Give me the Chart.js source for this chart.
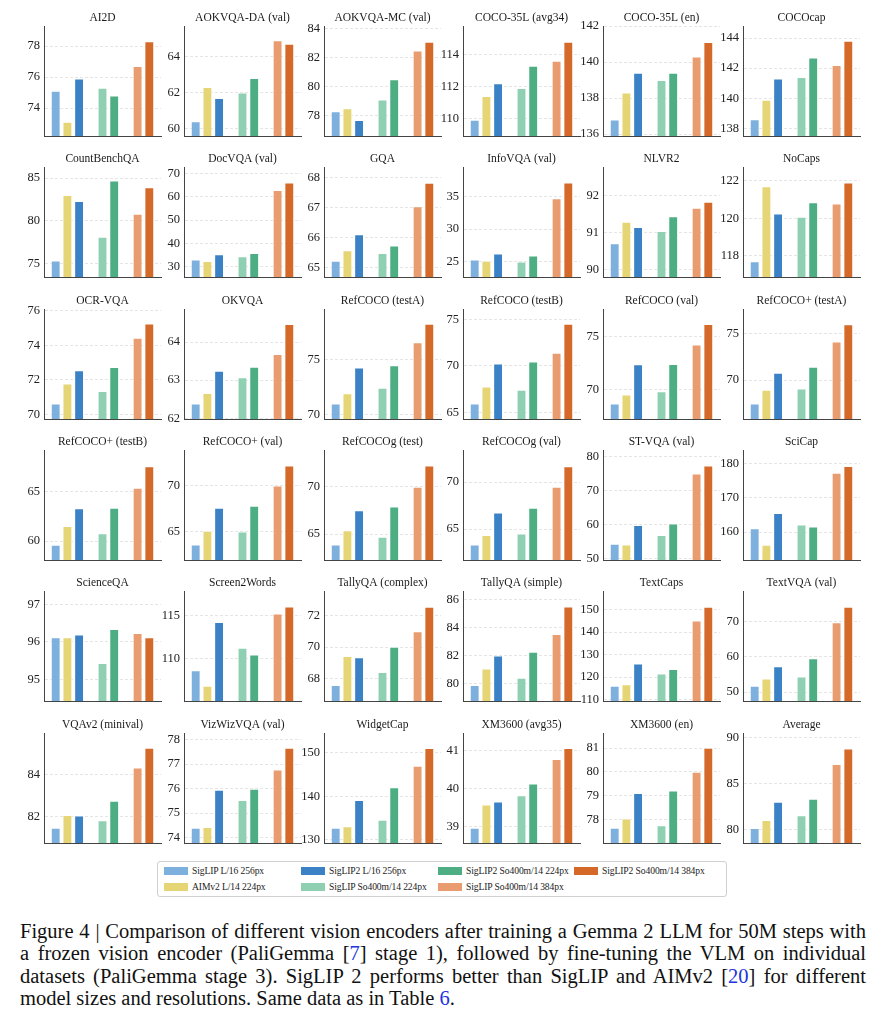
<!DOCTYPE html>
<html>
<head>
<meta charset="utf-8">
<script src="https://cdn.jsdelivr.net/npm/chart.js@4.4.1/dist/chart.umd.min.js"></script>
<style>
  body { margin: 0; background: #fff; width: 883px; height: 1024px; position: relative; overflow: hidden;
         font-family: 'Liberation Serif', 'Times New Roman', serif; }
  canvas.panel { position: absolute; }
  #legend { position: absolute; left: 157px; top: 861px; width: 570px; height: 36px;
            border: 1px solid #d0d0d0; border-radius: 3px; box-sizing: border-box; }
  .item { position: absolute; font-size: 9.6px; letter-spacing: -0.1px; color: #222; white-space: nowrap; line-height: 12px; }
  .sw { display: inline-block; width: 24px; height: 8px; margin-right: 4px; vertical-align: -1px; }
  #caption { position: absolute; left: 20px; top: 920px; width: 846px; font-size: 20.5px; line-height: 22.4px; color: #111; }
  #caption div { text-align: justify; text-align-last: justify; white-space: nowrap; }
  #caption div.last { text-align-last: left; }
  #caption span.ref { color: #2233dd; }
</style>
</head>
<body>
<div id="legend"></div>
<div id="caption">
  <div>Figure 4 | Comparison of different vision encoders after training a Gemma 2 LLM for 50M steps with</div>
  <div>a frozen vision encoder (PaliGemma [<span class="ref">7</span>] stage 1), followed by fine-tuning the VLM on individual</div>
  <div>datasets (PaliGemma stage 3). SigLIP 2 performs better than SigLIP and AIMv2 [<span class="ref">20</span>] for different</div>
  <div class="last">model sizes and resolutions. Same data as in Table <span class="ref">6</span>.</div>
</div>
<script>
// model order inside every panel
const models = ['SigLIP L/16 256px', 'AIMv2 L/14 224px', 'SigLIP2 L/16 256px',
  'SigLIP So400m/14 224px', 'SigLIP2 So400m/14 224px', 'SigLIP So400m/14 384px', 'SigLIP2 So400m/14 384px'];
const colors = ['#7eb0dd', '#e6d575', '#3a82c5', '#8fd0b3', '#4dae84', '#e99c70', '#d4692a'];

const tasks = [
  'AI2D', 'AOKVQA-DA (val)', 'AOKVQA-MC (val)', 'COCO-35L (avg34)', 'COCO-35L (en)', 'COCOcap',
  'CountBenchQA', 'DocVQA (val)', 'GQA', 'InfoVQA (val)', 'NLVR2', 'NoCaps',
  'OCR-VQA', 'OKVQA', 'RefCOCO (testA)', 'RefCOCO (testB)', 'RefCOCO (val)', 'RefCOCO+ (testA)',
  'RefCOCO+ (testB)', 'RefCOCO+ (val)', 'RefCOCOg (test)', 'RefCOCOg (val)', 'ST-VQA (val)', 'SciCap',
  'ScienceQA', 'Screen2Words', 'TallyQA (complex)', 'TallyQA (simple)', 'TextCaps', 'TextVQA (val)',
  'VQAv2 (minival)', 'VizWizVQA (val)', 'WidgetCap', 'XM3600 (avg35)', 'XM3600 (en)', 'Average'
];

const scores = [
  [75.1, 73.1, 75.9, 75.3, 74.8, 76.7, 78.3],
  [60.4, 62.3, 61.7, 62.0, 62.8, 64.9, 64.7],
  [78.3, 78.5, 77.7, 79.1, 80.5, 82.5, 83.1],
  [109.9, 111.4, 112.2, 111.9, 113.3, 113.6, 114.8],
  [136.8, 138.3, 139.4, 139.0, 139.4, 140.3, 141.1],
  [138.6, 139.9, 141.3, 141.4, 142.7, 142.2, 143.8],
  [75.3, 83.0, 82.3, 78.1, 84.7, 80.8, 83.9],
  [33.0, 32.4, 35.3, 34.4, 35.8, 62.8, 66.0],
  [65.23, 65.58, 66.11, 65.49, 65.74, 67.04, 67.82],
  [25.35, 25.15, 26.27, 25.05, 25.96, 34.7, 37.1],
  [90.7, 91.28, 91.14, 91.03, 91.43, 91.66, 91.82],
  [117.7, 121.7, 120.25, 120.07, 120.85, 120.78, 121.9],
  [70.62, 71.78, 72.54, 71.34, 72.73, 74.42, 75.25],
  [62.38, 62.66, 63.24, 63.07, 63.35, 63.68, 64.47],
  [70.98, 71.92, 74.27, 72.41, 74.48, 76.59, 78.27],
  [65.96, 67.79, 70.25, 67.43, 70.46, 71.39, 74.5],
  [68.69, 69.53, 72.38, 69.84, 72.41, 74.25, 76.16],
  [67.48, 68.94, 70.78, 69.08, 71.42, 74.1, 75.96],
  [59.63, 61.51, 63.29, 60.77, 63.36, 65.37, 67.55],
  [63.6, 65.1, 67.57, 65.0, 67.79, 69.96, 72.1],
  [63.9, 65.38, 67.47, 64.72, 67.88, 69.93, 72.15],
  [63.35, 64.37, 66.76, 64.51, 67.25, 69.47, 71.65],
  [54.2, 54.0, 59.8, 56.8, 60.2, 75.0, 77.35],
  [161.06, 156.3, 165.5, 162.2, 161.6, 177.2, 179.2],
  [96.12, 96.12, 96.19, 95.43, 96.34, 96.23, 96.12],
  [108.65, 106.85, 114.27, 111.27, 110.5, 115.27, 116.08],
  [67.58, 69.43, 69.35, 68.4, 70.02, 71.01, 72.57],
  [79.9, 81.08, 82.0, 80.42, 82.26, 83.53, 85.48],
  [116.1, 116.7, 126.0, 121.5, 123.5, 145.0, 151.1],
  [51.77, 53.8, 57.27, 54.4, 59.53, 69.72, 74.11],
  [81.48, 82.08, 82.05, 81.83, 82.76, 84.33, 85.27],
  [74.39, 74.42, 75.95, 75.53, 75.99, 76.77, 77.66],
  [132.7, 133.0, 139.1, 134.5, 142.0, 147.0, 151.1],
  [38.96, 39.57, 39.65, 39.82, 40.13, 40.78, 41.07],
  [77.65, 78.04, 79.11, 77.76, 79.21, 80.0, 81.0],
  [80.11, 81.0, 82.98, 81.5, 83.3, 87.1, 88.8]
];

const yTicks = [
  [74, 76, 78], [60, 62, 64], [78, 80, 82, 84], [110, 112, 114], [136, 138, 140, 142], [138, 140, 142, 144],
  [75, 80, 85], [30, 40, 50, 60, 70], [65, 66, 67, 68], [25, 30, 35], [90, 91, 92], [118, 120, 122],
  [70, 72, 74, 76], [62, 63, 64], [70, 75], [65, 70, 75], [70, 75], [70, 75],
  [60, 65], [65, 70], [65, 70], [65, 70], [50, 60, 70, 80], [160, 170, 180],
  [95, 96, 97], [110, 115], [68, 70, 72], [80, 82, 84, 86], [110, 120, 130, 140, 150], [50, 60, 70],
  [82, 84], [74, 75, 76, 77, 78], [130, 140, 150], [39, 40, 41], [78, 79, 80, 81], [80, 85, 90]
];

const yRanges = [
  [72.2, 79.3], [59.6, 65.7], [76.6, 84.2], [108.9, 115.8], [135.9, 142.0], [137.5, 144.8],
  [73.4, 86.3], [25.6, 72.7], [64.7, 68.35], [22.7, 39.5], [89.8, 92.76], [116.87, 122.74],
  [69.73, 76.1], [61.98, 64.87], [69.57, 79.65], [64.32, 76.1], [67.25, 77.6], [65.85, 77.6],
  [58.1, 69.2], [61.96, 73.8], [62.3, 73.8], [61.73, 73.4], [49.5, 81.96], [151.9, 183.9],
  [94.42, 97.36], [105.1, 117.9], [66.57, 73.58], [78.78, 86.6], [109.4, 158.2], [47.5, 78.6],
  [80.76, 85.98], [73.78, 78.27], [129.2, 154.6], [38.56, 41.47], [77.02, 81.63], [78.5, 90.5]
];

// bars sit in slots 1-3, 5-6, 8-9 of 11 (empty slots make the group gaps)
const slots = [1, 2, 3, 5, 6, 8, 9];
const serif = "'Liberation Serif', 'Times New Roman', serif";

const panelTitle = {
  id: 'panelTitle',
  afterDraw(chart, args, opts) {
    const { ctx, chartArea } = chart;
    ctx.save();
    ctx.font = '11.5px ' + serif;
    ctx.fillStyle = '#1a1a1a';
    ctx.textAlign = 'center';
    ctx.fillText(opts.text, (chartArea.left + chartArea.right) / 2, chartArea.top - 5);
    ctx.restore();
  }
};

// y tick labels need ~12px below the axis, so keep bottom padding above that
const labelW = 24, plotW = 117, plotH = 110, padTop = 22, padBottom = 13;

function drawPanels() {
  tasks.forEach((title, i) => {
    const row = Math.floor(i / 6), col = i % 6;
    const plotLeft = 44 + col * 139.8;
    const plotTop = 26 + row * 141.3;

    const canvas = document.createElement('canvas');
    canvas.className = 'panel';
    canvas.width = labelW + plotW + 2;
    canvas.height = padTop + plotH + padBottom;
    canvas.style.left = (plotLeft - labelW) + 'px';
    canvas.style.top = (plotTop - padTop) + 'px';
    document.body.appendChild(canvas);

    const data = new Array(11).fill(null);
    const bg = new Array(11).fill('transparent');
    slots.forEach((s, k) => { data[s] = scores[i][k]; bg[s] = colors[k]; });

    new Chart(canvas, {
      type: 'bar',
      data: {
        labels: new Array(11).fill(''),
        datasets: [{
          data,
          backgroundColor: bg,
          borderColor: 'rgba(255,255,255,0.7)',
          borderWidth: 0.8,
          categoryPercentage: 0.9,
          barPercentage: 0.9
        }]
      },
      options: {
        responsive: false,
        animation: false,
        layout: { padding: { top: padTop, right: 2, bottom: padBottom, left: 0 } },
        plugins: {
          legend: { display: false },
          tooltip: { enabled: false },
          panelTitle: { text: title }
        },
        scales: {
          x: {
            type: 'category',
            offset: false,
            ticks: { display: false },
            grid: { display: false },
            border: { display: true, color: '#444', width: 1 },
            afterFit: s => { s.height = 0; }
          },
          y: {
            min: yRanges[i][0],
            max: yRanges[i][1],
            afterBuildTicks: s => { s.ticks = yTicks[i].map(v => ({ value: v })); },
            afterFit: s => { s.width = labelW; },
            ticks: { color: '#222', padding: 4, font: { family: serif, size: 12.5 } },
            grid: { color: '#dedede', lineWidth: 0.8, drawTicks: false },
            border: { display: true, color: '#444', width: 1, dash: [3, 2] }
          }
        }
      },
      plugins: [panelTitle]
    });
  });
}

// legend (column-major, 2 rows)
const legend = document.getElementById('legend');
const legendCols = [6, 143, 280, 416];
models.forEach((m, k) => {
  const c = Math.floor(k / 2), r = k % 2;
  const el = document.createElement('div');
  el.className = 'item';
  el.style.left = legendCols[c] + 'px';
  el.style.top = (3 + r * 15.5) + 'px';
  el.innerHTML = '<span class="sw" style="background:' + colors[k] + '"></span>' + m;
  legend.appendChild(el);
});

document.fonts.load("12px 'Liberation Serif'").then(drawPanels, drawPanels);
</script>
</body>
</html>
